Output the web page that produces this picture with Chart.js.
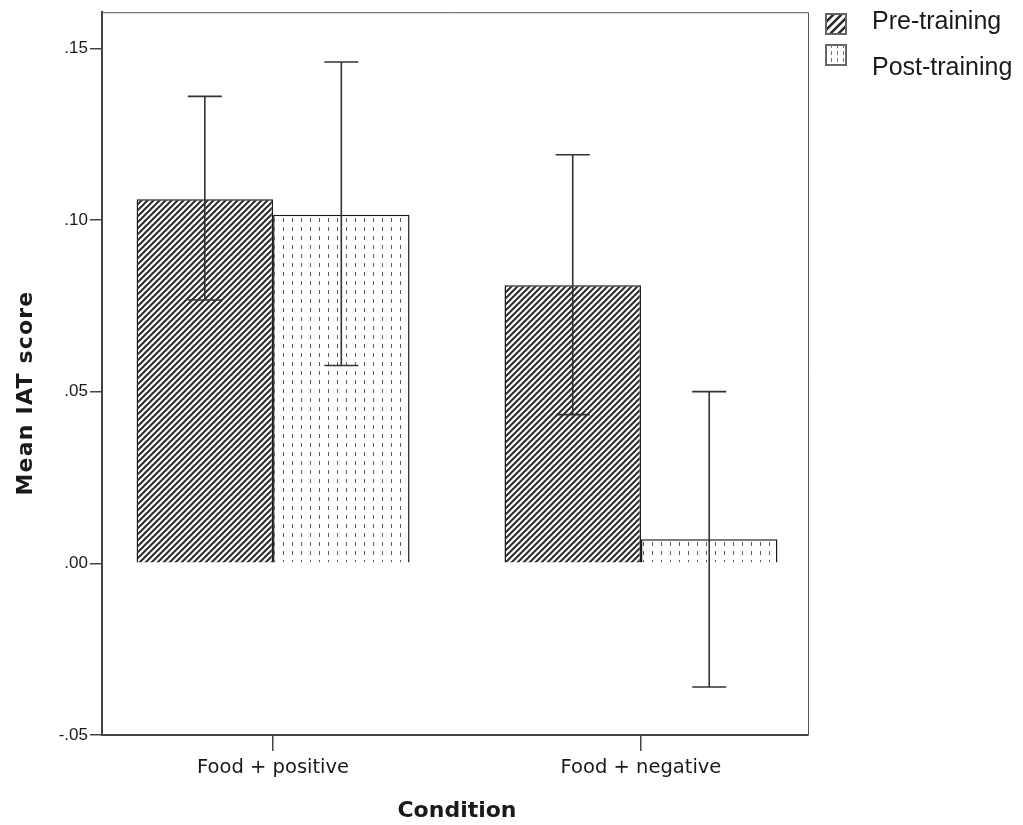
<!DOCTYPE html>
<html>
<head>
<meta charset="utf-8">
<script src="https://cdn.jsdelivr.net/npm/chart.js@4.4.0/dist/chart.umd.min.js"></script>
<style>
html, body { margin: 0; padding: 0; background: #fff; }
#wrap { width: 1023px; height: 825px; }
</style>
</head>
<body>
<div id="wrap"><canvas id="iatChart" width="1023" height="825"></canvas></div>
<script>
// values
var conditions = ['Food + positive', 'Food + negative'];
var conditionPos = [1, 2];
var seriesNames = ['Pre-training', 'Post-training'];
var preMean = [0.106, 0.081];
var preLow = [0.0767, 0.0433];
var preHigh = [0.136, 0.119];
var postMean = [0.1015, 0.007];
var postLow = [0.0576, -0.036];
var postHigh = [0.146, 0.050];
var yTicks = [-0.05, 0, 0.05, 0.10, 0.15];
var yTickLabels = ['-.05', '.00', '.05', '.10', '.15'];

function hatchPattern(size, lw) {
    var c = document.createElement('canvas');
    c.width = size; c.height = size;
    var g = c.getContext('2d');
    g.fillStyle = '#fff';
    g.fillRect(0, 0, size, size);
    g.strokeStyle = '#2a2a2a';
    g.lineWidth = lw;
    g.beginPath();
    g.moveTo(0, size); g.lineTo(size, 0);
    g.moveTo(-size / 2, size / 2); g.lineTo(size / 2, -size / 2);
    g.moveTo(size / 2, size * 1.5); g.lineTo(size * 1.5, size / 2);
    g.stroke();
    return g.createPattern(c, 'repeat');
}

function dotPattern(w, h, col) {
    var c = document.createElement('canvas');
    c.width = w; c.height = h;
    var g = c.getContext('2d');
    g.fillStyle = '#fff';
    g.fillRect(0, 0, w, h);
    g.fillStyle = col;
    g.fillRect(Math.floor(w / 2), 2, 1, 4);
    return g.createPattern(c, 'repeat');
}

var preFill = hatchPattern(6, 2);
var postFill = dotPattern(9, 9, '#5a5a5a');

function points(means) {
    return conditionPos.map(function(x, i) { return { x: x, y: means[i] }; });
}

var errorBars = {
    id: 'errorBars',
    afterDatasetsDraw: function(chart) {
        var ctx = chart.ctx;
        var y = chart.scales.y;
        var a = chart.chartArea;
        ctx.save();
        chart.data.datasets.forEach(function(ds, di) {
            var meta = chart.getDatasetMeta(di);
            meta.data.forEach(function(bar, i) {
                var top = y.getPixelForValue(ds.hi[i]);
                var bot = y.getPixelForValue(ds.lo[i]);
                ctx.strokeStyle = '#333';
                ctx.lineWidth = 1.6;
                ctx.beginPath();
                ctx.moveTo(bar.x, top); ctx.lineTo(bar.x, bot);
                ctx.moveTo(bar.x - 17, top); ctx.lineTo(bar.x + 17, top);
                ctx.moveTo(bar.x - 17, bot); ctx.lineTo(bar.x + 17, bot);
                ctx.stroke();
            });
        });
        // frame round the plot
        ctx.strokeStyle = '#555';
        ctx.lineWidth = 1;
        ctx.beginPath();
        ctx.moveTo(a.left, a.top + 0.5); ctx.lineTo(a.right + 0.5, a.top + 0.5);
        ctx.lineTo(a.right + 0.5, a.bottom);
        ctx.stroke();
        ctx.restore();
    },
    afterDraw: function(chart) {
        var ctx = chart.ctx;
        ctx.save();
        // legend
        var fills = [hatchPattern(8, 2.5), dotPattern(6, 7, '#777')];
        var boxY = [13, 44];
        var textY = [22, 68];
        seriesNames.forEach(function(name, i) {
            ctx.fillStyle = fills[i];
            ctx.fillRect(825, boxY[i], 22, 22);
            ctx.strokeStyle = '#666';
            ctx.lineWidth = 2;
            ctx.strokeRect(826, boxY[i] + 1, 20, 20);
            ctx.fillStyle = '#1a1a1a';
            ctx.font = '25px "Liberation Sans", Arial, sans-serif';
            ctx.textAlign = 'left';
            ctx.textBaseline = 'middle';
            ctx.fillText(name, 872, textY[i]);
        });
        // axis titles
        ctx.font = 'bold 22px "DejaVu Sans", sans-serif';
        ctx.textAlign = 'center';
        ctx.textBaseline = 'middle';
        ctx.fillText('Condition', 457, 811);
        ctx.translate(26, 393);
        ctx.rotate(-Math.PI / 2);
        ctx.letterSpacing = '1.2px';
        ctx.font = 'bold 22px "DejaVu Sans", sans-serif';
        ctx.fillText('Mean IAT score', 0, 0);
        ctx.restore();
    }
};

var ctx = document.getElementById('iatChart').getContext('2d');
var iatChart = new Chart(ctx, {
    type: 'bar',
    data: {
        datasets: [{
            label: seriesNames[0],
            data: points(preMean),
            lo: preLow,
            hi: preHigh,
            backgroundColor: preFill,
            borderColor: '#1a1a1a',
            borderWidth: 1.5,
            categoryPercentage: 0.742,
            barPercentage: 1
        }, {
            label: seriesNames[1],
            data: points(postMean),
            lo: postLow,
            hi: postHigh,
            backgroundColor: postFill,
            borderColor: '#1a1a1a',
            borderWidth: 1.5,
            categoryPercentage: 0.742,
            barPercentage: 1
        }]
    },
    options: {
        responsive: false,
        animation: false,
        layout: { padding: { left: 0, right: 215, top: 12, bottom: 0 } },
        plugins: {
            legend: { display: false },
            tooltip: { enabled: false }
        },
        scales: {
            x: {
                type: 'linear',
                offset: false,
                min: 0.535,
                max: 2.454,
                afterBuildTicks: function(s) {
                    s.ticks = conditionPos.map(function(v) { return { value: v }; });
                },
                afterFit: function(s) { s.height = 90; },
                ticks: {
                    autoSkip: false,
                    maxRotation: 0,
                    padding: 5,
                    color: '#1a1a1a',
                    font: { family: '"DejaVu Sans", sans-serif', size: 19.5 },
                    callback: function(v) { return conditions[conditionPos.indexOf(v)]; }
                },
                grid: { offset: false, drawOnChartArea: false, drawTicks: true, tickLength: 16, color: '#444', lineWidth: 1.5 },
                border: { color: '#444', width: 2 }
            },
            y: {
                min: -0.05,
                max: 0.1605,
                afterBuildTicks: function(s) {
                    s.ticks = yTicks.map(function(v) { return { value: v }; });
                },
                afterFit: function(s) { s.width = 102; },
                ticks: {
                    padding: 2,
                    color: '#1a1a1a',
                    font: { family: '"Liberation Sans", Arial, sans-serif', size: 17 },
                    callback: function(v) { return yTickLabels[yTicks.indexOf(v)]; }
                },
                grid: { drawOnChartArea: false, drawTicks: true, tickLength: 12, color: '#444', lineWidth: 1.5 },
                border: { color: '#444', width: 2 }
            }
        }
    },
    plugins: [errorBars]
});
</script>
</body>
</html>
